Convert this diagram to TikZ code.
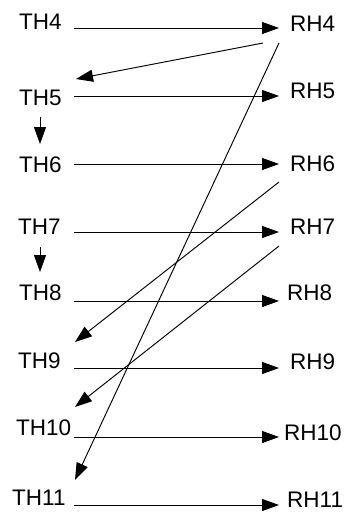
\documentclass[tikz,border=0pt]{standalone}
\usepackage{fontspec}
\setmainfont{Liberation Sans}
\usetikzlibrary{arrows.meta}
\begin{document}
\begin{tikzpicture}[x=1pt,y=-1pt,
  lbl/.style={anchor=base west,inner sep=0pt,font=\fontsize{22.5}{25}\selectfont},
  link/.style={line width=0.95pt,-{Triangle[length=17pt,width=12pt]}}]
\useasboundingbox (0,0) rectangle (345,512);
% left-hand labels
\node[lbl] (TH4)  at (19,29)  {TH4};
\node[lbl] (TH5)  at (19,105) {TH5};
\node[lbl] (TH6)  at (19,172) {TH6};
\node[lbl] (TH7)  at (18,234) {TH7};
\node[lbl] (TH8)  at (19,300) {TH8};
\node[lbl] (TH9)  at (18,368) {TH9};
\node[lbl] (TH10) at (16,435) {TH10};
\node[lbl] (TH11) at (12,505) {TH11};
% right-hand labels
\node[lbl] (RH4)  at (290,31)  {RH4};
\node[lbl] (RH5)  at (290,98)  {RH5};
\node[lbl] (RH6)  at (290,171) {RH6};
\node[lbl] (RH7)  at (290,234) {RH7};
\node[lbl] (RH8)  at (287,300) {RH8};
\node[lbl] (RH9)  at (290,369) {RH9};
\node[lbl] (RH10) at (284,440) {RH10};
\node[lbl] (RH11) at (287,507) {RH11};
% end points of the horizontal links
\foreach \n/\y in {4/28,5/96,6/164,7/232,8/301,9/368,10/437,11/505}{
  \coordinate (t\n) at (74,\y);
  \coordinate (r\n) at (279,\y);
}
% end points of the crossing links
\coordinate (a4s)  at (263,43);
\coordinate (a5e)  at (76,79);
\coordinate (b4s)  at (279,43);
\coordinate (b11e) at (75,480);
\coordinate (c6s)  at (279,182);
\coordinate (c9e)  at (75,342);
\coordinate (d7s)  at (279,246);
\coordinate (d10e) at (75,407);
% short vertical links
\coordinate (v5s) at (40,117);
\coordinate (v6e) at (40,144);
\coordinate (v7s) at (40,247);
\coordinate (v8e) at (40,272);
% horizontal links
\foreach \n in {4,...,11}{\draw[link] (t\n) -- (r\n);}
% crossing links
\draw[link] (a4s) -- (a5e);
\draw[link] (b4s) -- (b11e);
\draw[link] (c6s) -- (c9e);
\draw[link] (d7s) -- (d10e);
% vertical links
\draw[link] (v5s) -- (v6e);
\draw[link] (v7s) -- (v8e);
\end{tikzpicture}
\end{document}
